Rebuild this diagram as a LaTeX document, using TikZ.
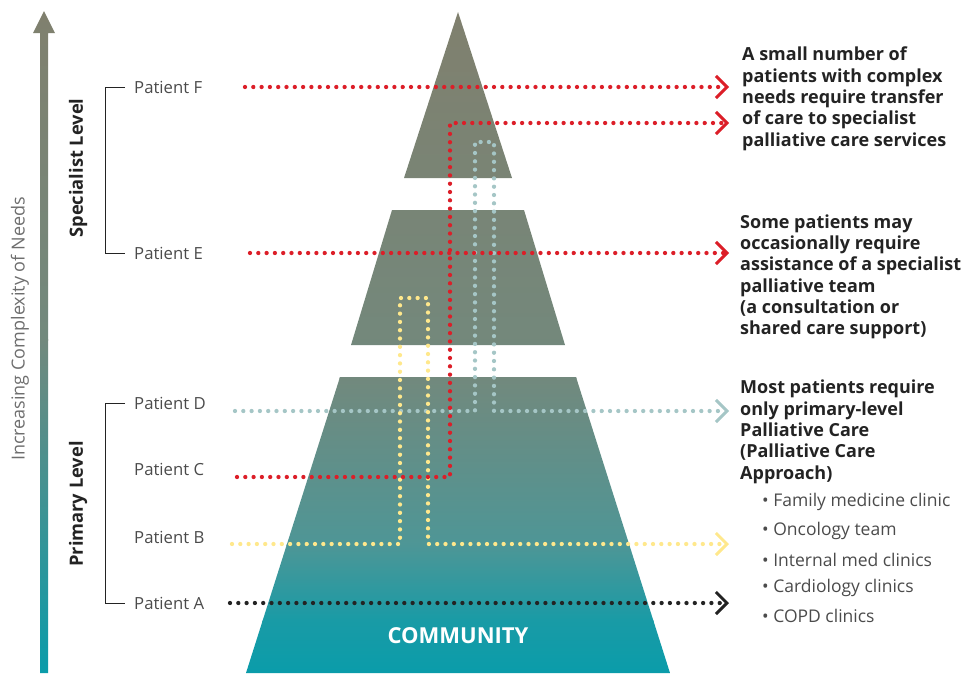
\documentclass[tikz,border=0pt]{standalone}
\usepackage{fontspec}
\setmainfont{Open Sans}
\usetikzlibrary{arrows.meta, positioning}

\definecolor{pyrgrey}{RGB}{128,128,110}
\definecolor{pyrmid}{RGB}{114,137,125}
\definecolor{pyrlow}{RGB}{78,150,150}
\definecolor{pyrdeep}{RGB}{25,155,166}
\definecolor{pyrteal}{RGB}{10,156,170}
\definecolor{dotred}{RGB}{220,30,40}
\definecolor{dotteal}{RGB}{165,198,198}
\definecolor{dotyellow}{RGB}{255,232,140}
\definecolor{dotblack}{RGB}{35,35,35}
\definecolor{textdark}{RGB}{35,35,35}
\definecolor{textgrey}{RGB}{75,75,75}
\definecolor{axisgrey}{RGB}{110,110,110}

\tikzset{
  dotline/.style={line width=4.3pt, line cap=round, dash pattern=on 0pt off 8.3pt,
    -{Straight Barb[length=11pt, width=22pt, line width=3pt]}},
  patient/.style={anchor=west, inner sep=0pt, text=textgrey,
    font=\fontsize{16.7}{20}\selectfont},
  levellabel/.style={rotate=90, inner sep=0pt, text=textdark,
    font=\bfseries\fontsize{18.3}{21}\selectfont},
  note/.style={anchor=north west, inner sep=0pt, align=left, text=textdark,
    font=\bfseries\fontsize{18}{21.3}\selectfont},
  bullet/.style={anchor=west, inner sep=0pt, text=textgrey,
    font=\fontsize{17.5}{20}\selectfont},
  bracket/.style={line width=0.9pt, draw=textdark}
}

\begin{document}
\begin{tikzpicture}[x=1pt, y=-1pt]
  \useasboundingbox (0,0) rectangle (973,673);

  % complexity axis
  \begin{scope}
    \clip (40,673) -- (40,33) -- (33,33) -- (44,11) -- (55,33) -- (48,33) -- (48,673) -- cycle;
    \shade[top color=pyrgrey, bottom color=pyrmid] (30,10) rectangle (60,340);
    \shade[top color=pyrmid, bottom color=pyrteal] (30,339) rectangle (60,674);
  \end{scope}
  \node[rotate=90, inner sep=0pt, text=axisgrey, font=\fontsize{18}{21}\selectfont]
    (axis) at (20,329) {Increasing Complexity of Needs};

  % pyramid
  \begin{scope}
    \clip (458,12) -- (512,178) -- (404,178) -- cycle
          (392,210) -- (524,210) -- (565,345) -- (351,345) -- cycle
          (340,377) -- (576,377) -- (670,673) -- (246,673) -- cycle;
    \shade[top color=pyrgrey, bottom color=pyrmid] (240,10) rectangle (680,378);
    \shade[top color=pyrmid, bottom color=pyrlow] (240,377) rectangle (680,545);
    \shade[top color=pyrlow, bottom color=pyrdeep] (240,544) rectangle (680,621);
    \shade[top color=pyrdeep, bottom color=pyrteal] (240,620) rectangle (680,674);
  \end{scope}
  \node[text=white, font=\bfseries\fontsize{22}{25}\selectfont] (community) at (458,636) {COMMUNITY};

  % patients
  \node[patient] (pF) at (134,87) {Patient F};
  \node[patient] (pE) at (134,253) {Patient E};
  \node[patient] (pD) at (134,403) {Patient D};
  \node[patient] (pC) at (134,469) {Patient C};
  \node[patient] (pB) at (134,537) {Patient B};
  \node[patient] (pA) at (134,603) {Patient A};

  \draw[bracket] ([xshift=-9pt]pF.west) -- ++(-20,0) |- ([xshift=-9pt]pE.west);
  \draw[bracket] ([xshift=-9pt]pD.west) -- ++(-20,0) |- ([xshift=-9pt]pA.west);
  \node[levellabel] (specialist) at (78,168) {Specialist Level};
  \node[levellabel] (primary) at (78,504) {Primary Level};

  % pathways
  \coordinate (fS) at (245,87);   \coordinate (fE) at (729,87);
  \coordinate (eS) at (250,253);  \coordinate (eE) at (729,253);
  \coordinate (dS) at (235,411);  \coordinate (dE) at (729,411);
  \coordinate (cS) at (237,477);  \coordinate (cE) at (729,123);
  \coordinate (bS) at (232,544);  \coordinate (bE) at (729,544);
  \coordinate (aS) at (230,603);  \coordinate (aE) at (729,603);

  \draw[dotline, dotteal] (dS) -- (475,411) -- (475,142) -- (494,142) -- (494,411) -- (dE);
  \draw[dotline, dotyellow] (bS) -- (400,544) -- (400,298) -- (428,298) -- (428,544) -- (bE);
  \draw[dotline, dotred] (cS) -- (450,477) -- (450,123) -- (cE);
  \draw[dotline, dotred] (fS) -- (fE);
  \draw[dotline, dotred] (eS) -- (eE);
  \draw[dotline, dotblack] (aS) -- (aE);

  % outcomes
  \node[note] (noteF) at (742,47) {A small number of\\patients with complex\\needs require transfer\\of care to specialist\\palliative care services};
  \node[note] (noteE) at (740,214.5) {Some patients may\\occasionally require\\assistance of a specialist\\palliative team\\(a consultation or\\shared care support)};
  \node[note] (noteD) at (740,380) {Most patients require\\only primary-level\\Palliative Care\\(Palliative Care\\Approach)};

  \foreach \y/\nm/\txt in {502/fam/Family medicine clinic, 531/onc/Oncology team,
      560/int/Internal med clinics, 588/car/Cardiology clinics, 616/copd/COPD clinics}
    \node[bullet] (b\nm) at (762,\y) {\textbullet\ \txt};
\end{tikzpicture}
\end{document}
